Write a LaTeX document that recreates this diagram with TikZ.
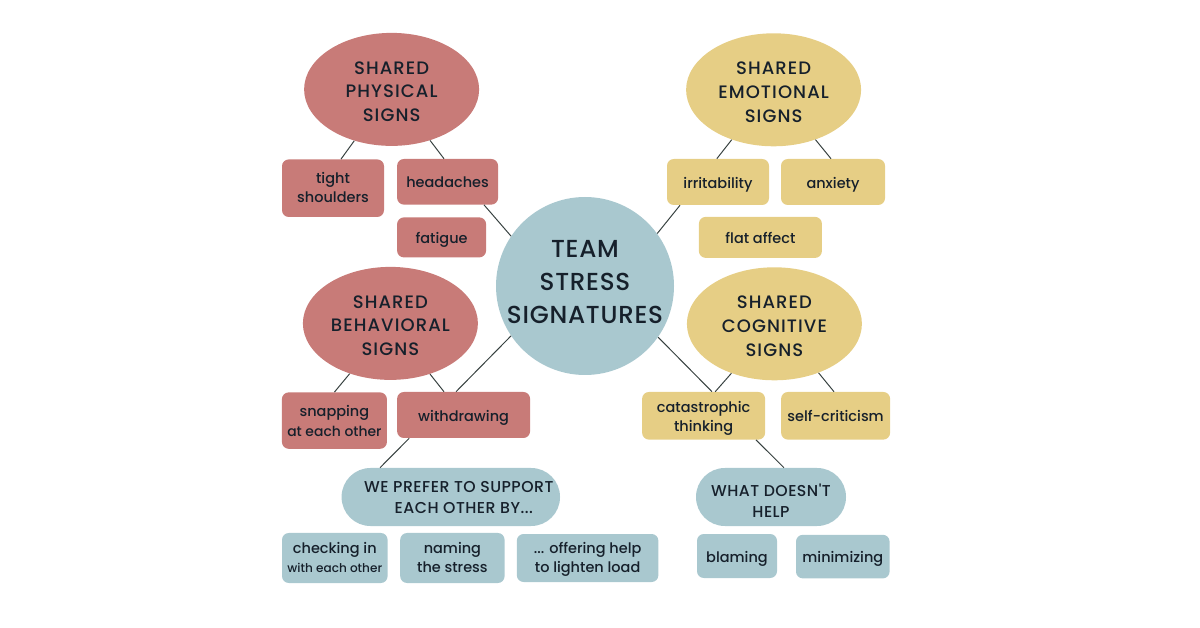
\documentclass[tikz,border=0pt]{standalone}
\usepackage{fontspec}
\setmainfont{Poppins Medium}
\newfontfamily\capsfont[LetterSpace=3]{Poppins Medium}
\newfontfamily\signfont[LetterSpace=6]{Poppins Medium}
\usetikzlibrary{shapes.geometric}

\definecolor{redfill}{HTML}{C87B78}
\definecolor{yellowfill}{HTML}{E6CE85}
\definecolor{bluefill}{HTML}{A9C8CF}
\definecolor{inkcol}{HTML}{16202B}
\definecolor{linecol}{HTML}{36403F}

\tikzset{
	% fixes where the last baseline sits in a shape
	rise/.style={execute at begin node={\rule{0pt}{#1}}},
	drop/.style={execute at end node={\rule[-#1]{0pt}{#1}}},
	box/.style={rectangle, rounded corners=0.17cm, inner sep=0pt, align=center, text=inkcol, font=\fontsize{10.3}{13.8}\selectfont, rise=1.3em, drop=0.46em},
	pill/.style={rectangle, rounded corners=0.72cm, inner sep=0pt, align=center, text=inkcol, font=\capsfont\fontsize{11.2}{15}\selectfont, rise=26.2pt, drop=2.8pt},
	sign/.style={ellipse, inner sep=0pt, minimum width=4.375cm, minimum height=2.825cm, align=center, text=inkcol, font=\signfont\fontsize{12.8}{17}\selectfont, rise=48pt, drop=1.8pt},
	link/.style={linecol, line width=0.7pt},
}

\begin{document}
\begin{tikzpicture}
		\useasboundingbox (0, 0) rectangle (30, 15.675);

		% 中央
		\node[circle, fill=bluefill, minimum size=4.45cm, inner sep=0pt, align=center, text=inkcol, font=\capsfont\fontsize{17.5}{23.5}\selectfont, rise=64pt, drop=10pt] (team) at (14.625, 8.525) {TEAM\\STRESS\\\makebox[0pt]{SIGNATURES}};

		% signs
		\node[sign, fill=redfill] (physical) at (9.79, 13.44) {SHARED\\PHYSICAL\\SIGNS};
		\node[sign, fill=yellowfill] (emotional) at (19.34, 13.43) {SHARED\\EMOTIONAL\\SIGNS};
		\node[sign, fill=redfill] (behavioral) at (9.76, 7.59) {SHARED\\BEHAVIORAL\\SIGNS};
		\node[sign, fill=yellowfill] (cognitive) at (19.36, 7.58) {SHARED\\COGNITIVE\\SIGNS};

		% 赤
		\node[box, fill=redfill, minimum width=2.55cm, minimum height=1.44cm, rise=25pt] (tight) at (8.325, 10.97) {tight\\shoulders};
		\node[box, fill=redfill, minimum width=2.525cm, minimum height=1.14cm] (headaches) at (11.19, 11.13) {headaches};
		\node[box, fill=redfill, minimum width=2.225cm, minimum height=1cm] (fatigue) at (11.04, 9.74) {fatigue};
		\node[box, fill=redfill, minimum width=2.625cm, minimum height=1.41cm, rise=27pt] (snapping) at (8.36, 5.16) {snapping\\{\fontsize{9.9}{13.8}\selectfont at each other}};
		\node[box, fill=redfill, minimum width=3.325cm, minimum height=1.15cm] (withdrawing) at (11.59, 5.3) {withdrawing};

		% 黄
		\node[box, fill=yellowfill, minimum width=2.55cm, minimum height=1.15cm] (irritability) at (17.95, 11.125) {irritability};
		\node[box, fill=yellowfill, minimum width=2.6cm, minimum height=1.15cm] (anxiety) at (20.825, 11.125) {anxiety};
		\node[box, fill=yellowfill, minimum width=3.075cm, minimum height=1.025cm] (flat) at (19.01, 9.74) {flat affect};
		\node[box, fill=yellowfill, minimum width=3.075cm, minimum height=1.19cm, rise=27pt] (catastrophic) at (17.59, 5.28) {catastrophic\\thinking};
		\node[box, fill=yellowfill, minimum width=2.725cm, minimum height=1.19cm] (selfcrit) at (20.89, 5.28) {self-criticism};

		% 青
		\node[pill, fill=bluefill, minimum width=5.46cm, minimum height=1.45cm] (prefer) at (11.27, 3.25) {\hspace*{0.4cm}WE PREFER TO SUPPORT\\\hspace*{0.65cm}EACH OTHER BY...};
		\node[pill, fill=bluefill, minimum width=3.75cm, minimum height=1.45cm, rise=32pt] (doesnt) at (19.275, 3.25) {WHAT DOESN'T\\HELP};
		\node[box, fill=bluefill, minimum width=2.64cm, minimum height=1.25cm, rise=26pt] (checking) at (8.37, 1.725) {checking in\\{\fontsize{8.6}{12}\selectfont with each other}};
		\node[box, fill=bluefill, minimum width=2.61cm, minimum height=1.25cm, rise=26pt] (naming) at (11.31, 1.725) {naming\\the stress};
		\node[box, fill=bluefill, minimum width=3.54cm, minimum height=1.2cm, rise=26pt] (offering) at (14.69, 1.725) {... offering help\\to lighten load};
		\node[box, fill=bluefill, minimum width=2cm, minimum height=1.1cm] (blaming) at (18.425, 1.775) {blaming};
		\node[box, fill=bluefill, minimum width=2.34cm, minimum height=1.09cm] (minimizing) at (21.07, 1.76) {minimizing};

		% 線
		\draw[link] (physical.-126) -- ([xshift=0.2cm]tight.north);
		\draw[link] (physical.-53) -- ([xshift=-0.09cm]headaches.north);
		\draw[link] ([xshift=0.91cm]headaches.south) -- (team.146);
		\draw[link] (emotional.-130) -- ([xshift=-0.03cm]irritability.north);
		\draw[link] (emotional.-50) -- ([xshift=-0.05cm]anxiety.north);
		\draw[link] ([xshift=-0.95cm]irritability.south) -- (team.36);
		\draw[link] (behavioral.-129) -- (snapping.north);
		\draw[link] (behavioral.-52) -- ([xshift=-0.49cm]withdrawing.north);
		\draw[link] (team.-146) -- ([xshift=-0.19cm]withdrawing.north);
		\draw[link] ([xshift=-1.36cm]withdrawing.south) -- ([xshift=-1.77cm]prefer.north);
		\draw[link] (cognitive.-131) -- ([xshift=0.29cm]catastrophic.north);
		\draw[link] (team.-35) -- ([xshift=0.21cm]catastrophic.north);
		\draw[link] (cognitive.-48) -- ([xshift=-0.04cm]selfcrit.north);
		\draw[link] ([xshift=1.31cm]catastrophic.south) -- ([xshift=0.325cm]doesnt.north);
\end{tikzpicture}
\end{document}
